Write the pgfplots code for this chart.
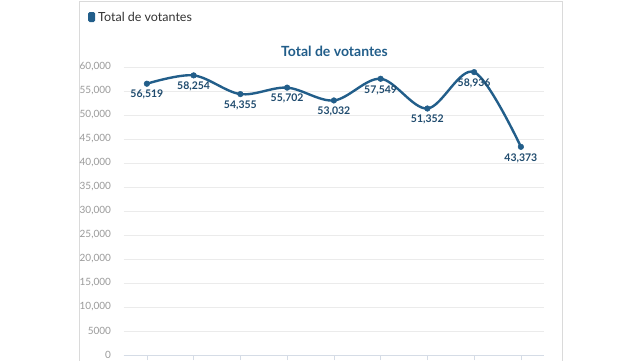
\documentclass[border=0pt]{standalone}
\usepackage{pgfplots}
\pgfplotsset{compat=1.18}
\usepackage{fontspec}
\setmainfont{Lato}
\definecolor{linec}{HTML}{225E8A}
\definecolor{labc}{HTML}{1F4B6E}
\definecolor{gridc}{HTML}{EBEBEB}
\definecolor{tickc}{HTML}{9A9A9A}
\definecolor{framec}{HTML}{DADADA}
\definecolor{axisc}{HTML}{D5DCE6}
\begin{document}
\begin{tikzpicture}
\fill[white] (0pt,0pt) rectangle (640pt,360pt);
\draw[framec, line width=0.8pt] (79.5pt,-5pt) -- (79.5pt,358.8pt) -- (562pt,358.8pt) -- (562pt,-5pt);
\fill[linec, rounded corners=1.5pt] (88pt,338pt) rectangle (95pt,348pt);
\node[anchor=west, font=\fontsize{12.5}{14}\selectfont, text=black!80, inner sep=0pt] at (98pt,343.5pt) {Total de votantes};
\node[font=\bfseries\fontsize{14}{17}\selectfont, text=linec] at (334.5pt,309pt) {Total de votantes};
\begin{axis}[
  at={(123.5pt,5pt)}, anchor=south west,
  scale only axis, width=420.75pt, height=288pt,
  xmin=-0.5, xmax=8.5, ymin=0, ymax=60000,
  axis x line*=bottom, axis y line*=left,
  y axis line style={draw=none},
  x axis line style={axisc},
  ymajorgrids, grid style={gridc, line width=0.6pt},
  xtick={0,...,8}, xticklabels={},
  ytick={0,5000,...,60000},
  scaled y ticks=false,
  yticklabels={0,5000,{10,000},{15,000},{20,000},{25,000},{30,000},{35,000},{40,000},{45,000},{50,000},{55,000},{60,000}},
  tick align=outside,
  major tick length=5pt,
  xtick style={axisc, line width=0.6pt},
  ytick style={draw=none},
  yticklabel style={font=\fontsize{10}{12}\selectfont, text=tickc, xshift=-4pt},
  clip=false,
]
\addplot[linec, line width=2.4pt, smooth, tension=0.55, mark=*, mark size=2.8pt,
  mark options={fill=linec, draw=linec, line width=0.5pt},
  nodes near coords, point meta=explicit symbolic,
  nodes near coords align={below},
  every node near coord/.append style={font=\bfseries\fontsize{10.5}{12}\selectfont, text=labc, yshift=-3pt}]
table[meta=lab] {
x y lab
0 56519 56,519
1 58254 58,254
2 54355 54,355
3 55702 55,702
4 53032 53,032
5 57549 57,549
6 51352 51,352
7 58936 58,936
8 43373 43,373
};
\end{axis}
\pgfresetboundingbox
\path[use as bounding box] (0pt,0pt) rectangle (640pt,360pt);
\end{tikzpicture}
\end{document}
